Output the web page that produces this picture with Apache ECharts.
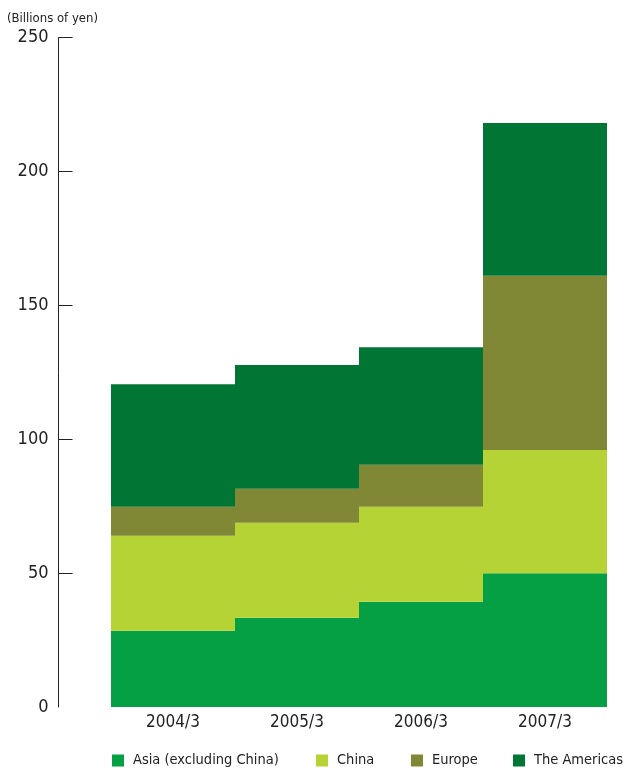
<!DOCTYPE html>
<html>
<head>
<meta charset="utf-8">
<script src="https://cdn.jsdelivr.net/npm/echarts@6/dist/echarts.min.js"></script>
<style>
  html, body { margin: 0; padding: 0; background: #fff; }
  #chart { width: 626px; height: 768px; }
</style>
</head>
<body>
<div id="chart"></div>
<script>
// Overseas sales by region, stacked (billions of yen)
var categories = ['2004/3', '2005/3', '2006/3', '2007/3'];
var asia      = [28.5, 33.3, 39.3, 50.0];
var china     = [35.5, 35.5, 35.5, 46.0];
var europe    = [10.8, 12.7, 15.7, 65.1];
var americas  = [45.8, 46.2, 43.9, 57.0];
var seriesNames = ['Asia (excluding China)', 'China', 'Europe', 'The Americas'];
var yTicks = [0, 50, 100, 150, 200, 250];

var FONT = '"DejaVu Sans Condensed", "Liberation Sans Narrow", sans-serif';
var colors = ['#05a043', '#b5d334', '#808836', '#007534'];
var legendLeft = [112, 316, 411, 513];

var chart = echarts.init(document.getElementById('chart'), null, { renderer: 'canvas' });

function bar(name, data, color) {
  return {
    name: name,
    type: 'bar',
    stack: 'total',
    data: data,
    barWidth: '100%',
    barCategoryGap: 0,
    itemStyle: { color: color },
    emphasis: { disabled: true }
  };
}

// one legend entry per box so each sits at its own spot along the bottom
var legends = seriesNames.map(function (name, i) {
  return {
    data: [name],
    left: legendLeft[i],
    top: 753,
    padding: 0,
    itemWidth: 12,
    itemHeight: 12,
    itemGap: 0,
    icon: 'rect',
    selectedMode: false,
    textStyle: { fontFamily: FONT, fontSize: 14.5, color: '#222', padding: [0, 0, 0, 4] }
  };
});

chart.setOption({
  animation: false,
  color: colors,
  title: {
    text: '(Billions of yen)',
    left: 2,
    top: 7,
    textStyle: { fontFamily: FONT, fontSize: 13, fontWeight: 'normal', color: '#222' }
  },
  grid: { left: 111, right: 19, top: 37.7, bottom: 61, containLabel: false },
  legend: legends,
  xAxis: {
    type: 'category',
    data: categories,
    axisLine: { show: false },
    axisTick: { show: false },
    axisLabel: { fontFamily: FONT, fontSize: 17, color: '#222', margin: 7 }
  },
  yAxis: {
    type: 'value',
    min: yTicks[0],
    max: yTicks[yTicks.length - 1],
    interval: 50,
    offset: 52.5,
    splitLine: { show: false },
    axisLine: { show: true, lineStyle: { color: '#222', width: 1 } },
    axisTick: {
      show: true,
      inside: true,
      length: 14,
      lineStyle: { color: '#222', width: 1 },
      customValues: yTicks.slice(1)
    },
    axisLabel: { fontFamily: FONT, fontSize: 18, color: '#222', margin: 10 }
  },
  series: [
    bar(seriesNames[0], asia, colors[0]),
    bar(seriesNames[1], china, colors[1]),
    bar(seriesNames[2], europe, colors[2]),
    bar(seriesNames[3], americas, colors[3])
  ]
});
</script>
</body>
</html>
